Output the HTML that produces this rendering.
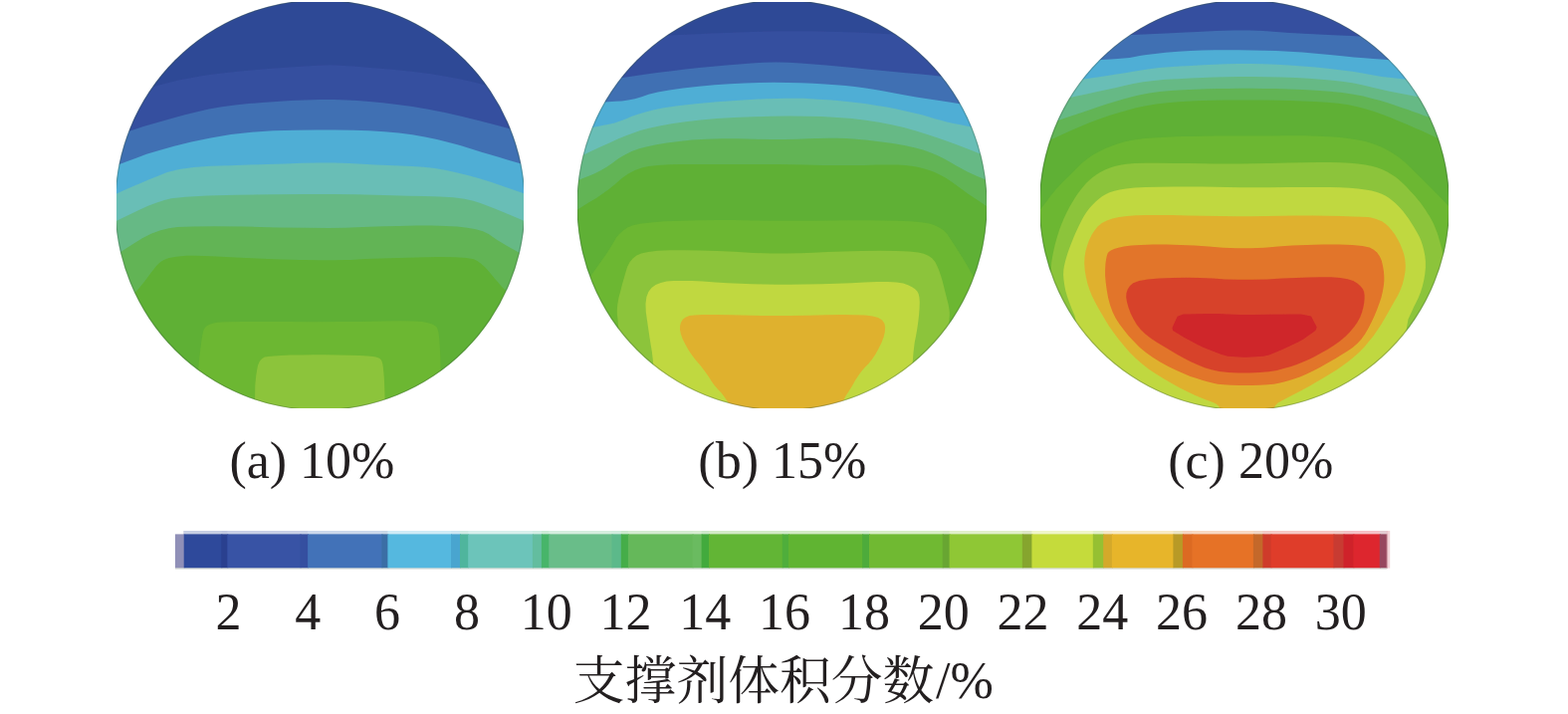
<!DOCTYPE html>
<html lang="zh">
<head>
<meta charset="utf-8">
<title>Proppant volume fraction contours</title>
<style>
html,body{margin:0;padding:0;background:#fff;}
body{width:1575px;height:717px;overflow:hidden;font-family:"Liberation Serif",serif;}
svg{display:block;}
</style>
</head>
<body>
<svg width="1575" height="717" viewBox="0 0 1575 717">
<defs>
<filter id="soft" x="-2%" y="-2%" width="104%" height="104%"><feGaussianBlur stdDeviation="0.6"/></filter>
</defs>
<rect width="1575" height="717" fill="#ffffff"/>
<clipPath id="clip1"><ellipse cx="321.5" cy="206.0" rx="206.0" ry="206.0"/></clipPath>
<clipPath id="rclip1"><rect x="117.0" y="2.0" width="409.0" height="408.0"/></clipPath>
<g clip-path="url(#rclip1)">
<g clip-path="url(#clip1)">
<g filter="url(#soft)">
<rect x="105.5" y="-10" width="432.0" height="440" fill="#2F4896"/>
<polygon points="105.0,102.0 108.6,100.9 115.9,98.6 126.8,95.2 141.2,90.8 154.9,86.8 167.6,83.4 179.5,80.6 190.5,78.4 202.2,76.3 214.6,74.5 227.6,72.9 241.4,71.6 255.3,70.3 269.4,69.1 283.8,68.0 298.2,67.1 310.4,66.3 320.1,65.8 327.5,65.5 332.5,65.3 341.6,65.7 354.9,66.6 372.2,67.9 393.8,69.8 413.5,71.8 431.6,74.1 447.9,76.7 462.6,79.5 477.0,82.7 491.2,86.4 505.3,90.6 519.2,95.1 529.6,98.6 536.5,100.9 540.0,102.0 540.0,430.0 105.0,430.0" fill="#35509F"/>
<polygon points="105.0,141.0 106.6,140.4 109.9,139.1 114.8,137.2 121.2,134.8 128.3,132.2 135.9,129.7 144.1,127.1 152.9,124.4 162.6,121.7 173.2,118.7 184.8,115.6 197.2,112.4 210.0,109.6 223.0,107.3 236.2,105.4 249.8,104.1 263.6,102.9 277.9,101.9 292.5,101.1 307.5,100.4 321.6,100.1 334.8,100.1 347.2,100.4 358.6,100.9 371.0,101.9 384.4,103.2 398.8,105.0 414.1,107.0 430.1,109.8 446.8,113.1 464.2,117.0 482.4,121.5 497.9,125.5 510.8,129.0 521.0,131.9 528.6,134.4 534.3,136.2 538.1,137.4 540.0,138.0 540.0,430.0 105.0,430.0" fill="#4170B3"/>
<polygon points="105.0,171.0 106.0,170.6 108.0,169.8 111.0,168.6 115.0,167.0 120.6,164.8 127.9,162.1 136.8,158.8 147.2,154.8 160.0,150.9 175.0,146.8 192.2,142.6 211.8,138.4 231.9,135.1 252.8,132.7 274.4,131.2 296.6,130.8 317.4,130.5 336.7,130.5 354.5,130.8 370.8,131.2 386.2,132.2 400.6,133.5 414.1,135.3 426.7,137.6 438.9,140.1 450.7,142.9 462.2,146.1 473.3,149.6 483.6,152.8 493.1,155.6 501.7,158.1 509.6,160.4 516.6,162.4 522.8,164.3 528.3,166.1 533.0,167.6 536.5,168.8 538.8,169.6 540.0,170.0 540.0,430.0 105.0,430.0" fill="#50AED5"/>
<polygon points="105.0,200.0 105.8,199.6 107.4,198.9 109.9,197.8 113.1,196.2 117.2,194.4 122.0,192.3 127.6,189.8 133.9,186.9 141.2,183.9 149.2,180.5 158.1,177.0 167.9,173.1 180.1,170.1 194.7,168.0 211.8,166.7 231.3,166.2 250.3,165.6 268.7,165.0 286.6,164.4 304.0,163.8 320.4,163.5 335.8,163.6 350.2,164.0 363.8,164.8 376.8,165.5 389.5,166.1 401.8,166.5 413.7,166.9 425.4,167.7 436.9,169.1 448.2,171.0 459.3,173.4 470.7,176.3 482.4,179.6 494.4,183.3 506.6,187.6 516.8,191.1 524.8,193.8 530.6,195.8 534.4,197.1 537.2,198.0 539.1,198.7 540.0,199.0 540.0,430.0 105.0,430.0" fill="#69BEB6"/>
<polygon points="105.0,228.0 105.8,227.6 107.2,226.8 109.5,225.6 112.5,224.1 117.1,221.7 123.3,218.7 131.1,214.9 140.5,210.4 149.3,206.6 157.5,203.4 165.1,201.0 172.0,199.2 186.5,197.8 208.4,196.6 237.8,195.8 274.7,195.3 306.9,195.0 334.6,195.0 357.6,195.3 376.1,195.8 393.7,196.3 410.6,196.7 426.7,197.1 442.0,197.5 455.3,198.3 466.4,199.8 475.5,201.7 482.5,204.1 489.8,206.8 497.5,209.8 505.5,213.0 513.9,216.5 521.0,219.5 526.9,222.0 531.5,224.1 534.9,225.6 537.5,226.8 539.1,227.6 540.0,228.0 540.0,430.0 105.0,430.0" fill="#66B985"/>
<polygon points="105.0,264.0 106.0,263.3 108.0,261.9 111.0,259.9 115.0,257.1 120.2,253.7 126.6,249.6 134.1,244.8 142.9,239.2 151.7,234.8 160.6,231.5 169.5,229.2 178.5,228.1 193.9,227.4 215.6,227.2 243.8,227.5 278.2,228.4 307.0,228.8 330.0,229.0 347.2,228.8 358.6,228.3 371.5,227.8 385.7,227.3 401.4,226.9 418.4,226.6 433.7,226.6 447.3,226.9 459.2,227.6 469.3,228.7 478.0,230.3 485.1,232.3 490.8,234.9 495.0,237.9 499.4,240.9 504.0,243.8 508.9,246.7 513.9,249.4 518.9,252.3 523.7,255.2 528.4,258.2 533.1,261.3 536.5,263.7 538.8,265.2 540.0,266.0 540.0,430.0 105.0,430.0" fill="#62B455"/>
<polygon points="105.0,328.0 107.2,325.6 111.6,320.8 118.1,313.6 126.9,303.9 134.1,295.8 139.8,289.3 143.9,284.2 146.6,280.8 149.2,277.3 151.8,273.8 154.4,270.4 157.1,267.1 159.8,264.3 162.8,262.0 165.9,260.4 169.1,259.3 172.9,258.4 177.3,257.7 182.2,257.2 187.8,256.8 195.4,256.8 205.1,257.0 217.0,257.5 231.0,258.2 246.4,259.0 263.1,259.7 281.2,260.4 300.8,261.0 319.1,261.3 336.3,261.3 352.4,260.9 367.3,260.1 383.6,259.5 401.1,258.9 420.0,258.5 440.3,258.1 456.3,258.3 468.2,259.0 475.8,260.2 479.3,262.0 483.1,264.8 487.3,268.6 491.8,273.5 496.7,279.4 500.7,284.1 503.8,287.7 506.1,290.1 507.5,291.2 510.5,294.3 515.0,299.3 521.0,306.1 528.6,314.9 534.3,321.4 538.1,325.8 540.0,328.0 540.0,430.0 105.0,430.0" fill="#5FB034"/>
<polygon points="198.0,411.2 198.0,398.8 198.3,386.6 198.9,374.7 199.9,363.1 201.1,351.9 202.3,342.9 203.4,336.1 204.5,331.6 205.5,329.4 207.4,327.5 210.1,325.9 213.8,324.7 218.2,323.8 228.2,323.2 243.6,322.9 264.4,322.9 290.6,323.1 315.8,323.2 339.9,323.1 362.9,322.9 384.8,322.4 402.3,322.3 415.5,322.6 424.4,323.1 428.9,324.1 432.7,325.1 435.6,326.3 437.8,327.7 439.2,329.2 440.4,333.4 441.3,340.2 441.9,349.7 442.4,361.8 442.7,374.0 442.9,386.3 443.0,398.8 443.0,411.2 427.7,420.6 397.1,426.9 351.1,430.0 289.9,430.0 243.9,426.9 213.3,420.6" fill="#6CB731"/>
<polygon points="256.0,418.8 256.0,411.2 256.0,404.4 256.1,398.1 256.2,392.5 256.3,387.5 256.7,382.5 257.2,377.4 258.0,372.3 259.0,367.1 260.7,363.1 263.0,360.2 265.9,358.5 269.6,357.9 275.1,357.4 282.5,357.0 291.9,356.6 303.1,356.4 314.7,356.3 326.6,356.3 338.8,356.4 351.4,356.8 361.5,357.1 369.3,357.5 374.6,358.0 377.5,358.6 379.9,359.3 381.7,360.3 382.9,361.5 383.6,362.9 384.3,365.3 384.8,368.8 385.3,373.4 385.8,378.9 386.1,385.8 386.4,393.9 386.6,403.3 386.8,414.0 378.7,422.0 362.4,427.3 337.9,430.0 305.1,430.0 280.6,428.1 264.2,424.4" fill="#8CC43A"/>
</g></g>
<ellipse cx="321.5" cy="206.0" rx="205.6" ry="205.6" fill="none" stroke="#33503c" stroke-opacity="0.32" stroke-width="1.1"/>
</g>
<clipPath id="clip2"><ellipse cx="785.5" cy="206.0" rx="206.0" ry="206.0"/></clipPath>
<clipPath id="rclip2"><rect x="580.0" y="2.0" width="411.0" height="408.0"/></clipPath>
<g clip-path="url(#rclip2)">
<g clip-path="url(#clip2)">
<g filter="url(#soft)">
<rect x="569.5" y="-10" width="432.0" height="440" fill="#2F4896"/>
<polygon points="570.0,40.0 576.8,39.7 590.4,39.1 610.8,38.2 638.0,37.1 662.1,36.0 683.0,35.1 700.7,34.2 715.4,33.5 729.3,32.9 742.6,32.4 755.2,32.0 767.1,31.7 779.2,31.5 791.5,31.4 804.0,31.4 816.8,31.5 829.8,31.7 843.1,32.1 856.7,32.5 870.6,33.1 887.8,33.9 908.4,34.9 932.2,36.2 959.3,37.7 979.7,38.9 993.2,39.6 1000.0,40.0 1000.0,430.0 570.0,430.0" fill="#35509F"/>
<polygon points="570.0,86.0 573.8,85.5 581.2,84.3 592.5,82.7 607.5,80.5 622.0,78.4 635.9,76.4 649.3,74.6 662.2,72.8 675.3,71.2 688.7,69.6 702.4,68.1 716.4,66.7 729.8,65.5 742.8,64.4 755.2,63.5 767.1,62.8 779.2,62.6 791.5,62.8 804.0,63.4 816.8,64.4 829.8,65.6 843.1,66.8 856.7,68.1 870.6,69.5 884.1,70.8 897.2,72.0 909.8,73.2 922.0,74.2 934.9,75.5 948.4,77.1 962.7,78.9 977.6,80.9 988.8,82.5 996.3,83.5 1000.0,84.0 1000.0,430.0 570.0,430.0" fill="#4170B3"/>
<polygon points="570.0,105.0 572.4,104.8 577.3,104.5 584.6,104.0 594.4,103.3 603.2,102.7 611.2,102.2 618.4,101.8 624.6,101.4 631.1,100.5 637.7,99.2 644.5,97.2 651.5,94.8 660.8,92.5 672.3,90.4 686.1,88.5 702.1,86.7 717.8,85.3 733.2,84.2 748.2,83.4 763.0,83.0 777.1,82.8 790.9,82.9 804.0,83.2 816.8,83.8 828.5,84.5 839.4,85.2 849.4,86.0 858.4,87.0 867.8,88.2 877.6,89.7 887.7,91.5 898.2,93.5 909.0,95.6 920.2,97.5 931.7,99.3 943.5,101.1 954.8,102.8 965.6,104.4 975.8,106.1 985.5,107.6 992.7,108.8 997.6,109.6 1000.0,110.0 1000.0,430.0 570.0,430.0" fill="#50AED5"/>
<polygon points="570.0,133.0 571.7,132.7 575.2,131.9 580.5,130.9 587.4,129.5 594.1,128.2 600.3,127.0 606.3,125.8 611.8,124.8 617.4,123.4 623.0,121.6 628.6,119.5 634.1,117.1 640.8,114.7 648.4,112.5 657.1,110.3 666.9,108.2 680.7,106.2 698.5,104.2 720.3,102.3 746.2,100.4 769.3,99.2 789.6,98.7 807.2,98.8 821.9,99.7 835.6,100.6 848.3,101.7 859.8,103.0 870.3,104.3 880.6,105.9 890.7,107.6 900.6,109.5 910.4,111.7 919.1,113.7 926.7,115.6 933.4,117.4 938.9,119.2 944.9,120.8 951.1,122.4 957.8,123.9 964.7,125.3 971.5,126.7 978.1,128.1 984.5,129.5 990.7,130.9 995.3,131.9 998.5,132.7 1000.0,133.0 1000.0,430.0 570.0,430.0" fill="#69BEB6"/>
<polygon points="570.0,163.0 571.2,162.4 573.7,161.3 577.3,159.6 582.2,157.3 588.1,154.6 595.1,151.3 603.1,147.6 612.2,143.4 620.7,139.6 628.8,136.3 636.3,133.5 643.2,131.0 652.0,128.7 662.4,126.4 674.6,124.2 688.5,122.2 703.7,120.4 720.1,119.0 737.8,118.0 756.6,117.2 774.9,116.8 792.4,116.6 809.3,116.7 825.4,117.1 840.9,117.9 855.6,119.1 869.6,120.8 882.8,122.8 895.6,125.3 907.8,128.1 919.4,131.2 930.6,134.7 941.2,138.2 951.3,141.7 960.9,145.2 970.0,148.7 977.8,151.7 984.4,154.4 989.8,156.6 993.9,158.3 996.9,159.7 999.0,160.6 1000.0,161.0 1000.0,430.0 570.0,430.0" fill="#66B985"/>
<polygon points="570.0,186.0 570.8,185.6 572.3,184.9 574.7,183.9 577.8,182.4 581.6,180.8 586.2,178.8 591.4,176.7 597.4,174.2 603.3,171.3 609.3,167.8 615.2,163.8 621.1,159.3 627.6,155.4 634.5,152.1 642.0,149.3 650.0,147.2 659.3,145.3 669.9,143.6 681.9,142.0 695.1,140.6 709.4,139.7 724.8,139.2 741.2,139.2 758.8,139.8 774.5,140.0 788.6,140.0 800.9,139.8 811.5,139.2 821.7,138.9 831.6,138.8 841.0,138.8 850.1,139.1 860.2,139.7 871.4,140.8 883.5,142.2 896.8,144.1 908.4,146.1 918.5,148.2 927.1,150.5 934.0,153.0 940.8,155.7 947.5,158.9 953.9,162.4 960.2,166.2 966.2,169.6 971.8,172.6 977.1,175.1 982.2,177.2 986.6,179.0 990.4,180.7 993.6,182.1 996.1,183.2 998.1,184.1 999.4,184.7 1000.0,185.0 1000.0,430.0 570.0,430.0" fill="#62B455"/>
<polygon points="570.0,217.0 570.7,216.5 572.1,215.6 574.2,214.2 577.0,212.4 580.8,209.9 585.7,206.9 591.6,203.3 598.6,199.2 605.4,194.6 612.0,189.8 618.4,184.5 624.7,179.0 631.1,174.4 637.8,170.9 644.6,168.5 651.5,167.1 660.8,166.1 672.3,165.3 686.1,165.0 702.1,165.0 717.8,165.0 733.2,165.0 748.2,165.0 763.0,165.0 778.0,165.1 793.5,165.3 809.3,165.5 825.4,165.9 840.7,166.1 855.1,166.1 868.5,165.9 881.1,165.5 892.1,165.4 901.5,165.6 909.3,166.1 915.6,166.8 921.7,167.8 927.6,169.2 933.4,170.9 938.9,173.1 944.5,175.7 950.1,178.8 955.7,182.5 961.2,186.6 966.7,190.6 972.1,194.5 977.4,198.1 982.7,201.6 987.2,204.6 991.0,207.3 994.1,209.5 996.4,211.3 998.2,212.6 999.4,213.6 1000.0,214.0 1000.0,430.0 570.0,430.0" fill="#5FB034"/>
<polygon points="570.0,310.0 571.7,307.6 575.2,302.6 580.5,295.3 587.4,285.5 593.5,276.9 598.8,269.6 603.1,263.5 606.6,258.6 609.9,253.7 613.0,248.8 616.0,243.9 618.8,239.1 622.1,234.9 626.0,231.4 630.3,228.6 635.2,226.5 643.0,224.8 653.8,223.4 667.6,222.3 684.3,221.7 701.6,221.2 719.4,221.0 737.8,221.1 756.6,221.5 775.7,221.7 795.0,221.7 814.5,221.7 834.2,221.4 852.8,221.3 870.3,221.3 886.7,221.4 902.0,221.7 914.9,222.3 925.4,223.2 933.4,224.6 938.9,226.3 943.8,228.7 948.0,231.6 951.5,235.2 954.3,239.4 957.3,243.9 960.4,248.8 963.7,254.1 967.2,259.6 970.0,264.2 972.1,267.7 973.5,270.1 974.1,271.5 976.2,275.1 979.7,281.0 984.5,289.1 990.7,299.5 995.3,307.2 998.5,312.4 1000.0,315.0 1000.0,430.0 570.0,430.0" fill="#6CB731"/>
<polygon points="623.1,391.2 622.5,365.3 621.9,344.9 621.2,329.8 620.5,320.2 619.9,316.1 619.8,311.2 620.3,305.6 621.4,299.3 623.2,292.4 624.9,285.7 626.7,279.5 628.4,273.5 630.1,268.0 632.5,263.3 635.7,259.4 639.5,256.5 644.1,254.4 651.1,252.9 660.7,251.8 672.8,251.3 687.5,251.3 703.2,251.6 719.9,252.1 737.8,252.8 756.6,253.9 774.0,254.5 789.8,254.6 804.0,254.3 816.8,253.7 831.2,253.0 847.3,252.5 865.1,252.1 884.6,251.8 900.6,251.9 913.2,252.4 922.3,253.4 927.8,254.7 932.5,256.8 936.4,259.6 939.3,263.1 941.4,267.3 943.3,271.8 945.0,276.7 946.6,282.0 948.0,287.5 949.3,292.8 950.5,297.6 951.7,302.2 952.7,306.3 953.4,310.2 953.8,313.7 953.8,316.9 953.5,319.7 953.1,328.5 952.5,343.2 951.9,363.8 951.1,390.2 930.2,410.1 889.1,423.4 827.8,430.0 746.2,430.0 685.0,423.5 643.9,410.6" fill="#8CC43A"/>
<polygon points="658.6,404.8 657.8,388.0 656.8,373.8 655.9,362.3 654.9,353.4 653.8,347.1 652.7,340.0 651.5,332.0 650.2,323.1 648.8,313.3 648.5,305.1 649.4,298.2 651.4,292.9 654.5,289.1 658.6,286.1 663.7,283.9 669.7,282.6 676.6,282.1 685.0,282.0 694.8,282.1 705.9,282.6 718.5,283.5 730.9,284.2 743.1,284.8 755.2,285.2 767.1,285.6 780.1,285.8 794.1,285.8 809.3,285.6 825.4,285.2 840.7,284.8 855.1,284.3 868.5,283.6 881.1,282.9 891.7,282.9 900.4,283.4 907.2,284.5 912.1,286.3 916.1,288.2 919.1,290.3 921.3,292.6 922.6,295.0 923.4,298.6 923.8,303.3 923.6,309.1 923.1,316.1 922.3,323.0 921.3,330.0 920.1,337.0 918.7,343.9 917.5,353.9 916.5,366.8 915.6,382.8 915.0,401.6 898.6,415.8 866.5,425.3 818.8,430.0 755.2,430.0 707.4,425.8 675.2,417.4" fill="#C0D840"/>
<polygon points="739.0,418.4 735.0,410.6 731.3,404.1 727.9,398.9 724.8,394.8 722.0,392.1 719.4,389.1 716.9,386.0 714.6,382.7 712.5,379.2 709.9,375.4 706.8,371.2 703.1,366.6 699.0,361.8 695.1,356.7 691.6,351.4 688.5,346.0 685.7,340.5 683.9,335.4 683.0,330.9 683.1,326.9 684.1,323.4 686.1,320.6 688.9,318.5 692.5,317.1 697.1,316.4 705.6,316.1 718.0,316.0 734.3,316.2 754.6,316.8 774.4,317.1 793.6,317.1 812.4,316.8 830.6,316.2 846.1,316.0 859.0,316.2 869.0,316.6 876.4,317.5 882.1,319.1 886.1,321.5 888.4,324.8 889.1,328.8 888.8,333.4 887.6,338.6 885.4,344.3 882.3,350.6 879.1,356.2 875.8,361.1 872.4,365.2 868.9,368.8 865.6,372.6 862.5,376.8 859.5,381.3 856.7,386.2 854.3,390.2 852.4,393.3 850.9,395.6 849.9,396.9 848.3,399.9 846.1,404.5 843.3,410.6 840.0,418.4 831.9,424.2 819.0,428.1 801.2,430.0 778.8,430.0 760.9,428.1 747.6,424.2" fill="#DFB12E"/>
</g></g>
<ellipse cx="785.5" cy="206.0" rx="205.6" ry="205.6" fill="none" stroke="#33503c" stroke-opacity="0.32" stroke-width="1.1"/>
</g>
<clipPath id="clip3"><ellipse cx="1250.0" cy="206.0" rx="206.0" ry="206.0"/></clipPath>
<clipPath id="rclip3"><rect x="1045.0" y="2.0" width="410.0" height="408.0"/></clipPath>
<g clip-path="url(#rclip3)">
<g clip-path="url(#clip3)">
<g filter="url(#soft)">
<rect x="1034.0" y="-10" width="432.0" height="440" fill="#35509F"/>
<polygon points="1035.0,40.0 1041.3,39.7 1053.8,39.0 1072.7,38.1 1097.8,36.8 1119.0,35.8 1136.4,35.0 1150.0,34.4 1159.8,34.0 1171.8,33.5 1186.1,32.8 1202.8,32.0 1221.7,31.0 1239.0,30.5 1254.8,30.5 1269.0,31.0 1281.8,32.0 1295.1,32.9 1309.1,33.8 1323.8,34.5 1339.1,35.2 1357.0,36.1 1377.6,37.2 1400.7,38.4 1426.4,39.9 1445.7,40.9 1458.6,41.6 1465.0,42.0 1465.0,430.0 1035.0,430.0" fill="#4170B3"/>
<polygon points="1035.0,64.0 1039.4,63.8 1048.3,63.2 1061.7,62.5 1079.4,61.5 1094.4,60.7 1106.6,60.0 1116.0,59.5 1122.7,59.1 1128.8,58.6 1134.6,57.9 1139.9,57.0 1144.8,56.0 1151.6,54.9 1160.3,53.9 1170.9,52.8 1183.5,51.8 1195.9,51.0 1208.1,50.5 1220.2,50.2 1232.1,50.2 1244.2,50.3 1256.5,50.5 1269.0,50.7 1281.8,51.1 1294.8,51.7 1308.1,52.6 1321.7,53.7 1335.6,55.1 1348.3,56.3 1359.8,57.4 1370.1,58.2 1379.2,59.0 1390.5,59.8 1404.1,61.0 1419.9,62.2 1437.9,63.8 1451.5,64.9 1460.5,65.6 1465.0,66.0 1465.0,430.0 1035.0,430.0" fill="#50AED5"/>
<polygon points="1035.0,88.0 1038.3,87.5 1044.9,86.4 1054.9,84.8 1068.1,82.7 1080.5,80.7 1092.0,79.0 1102.6,77.4 1112.4,76.0 1121.6,74.6 1130.3,73.2 1138.5,71.8 1146.2,70.4 1154.7,69.2 1164.1,68.1 1174.4,67.2 1185.6,66.5 1196.9,65.9 1208.5,65.3 1220.2,64.8 1232.1,64.3 1244.2,64.1 1256.5,64.1 1269.0,64.3 1281.8,64.8 1294.8,65.5 1308.1,66.4 1321.7,67.6 1335.6,69.0 1347.8,70.4 1358.2,71.8 1367.0,73.2 1373.9,74.6 1380.9,75.8 1387.9,76.9 1394.9,77.8 1401.8,78.5 1410.4,79.4 1420.4,80.5 1432.1,81.9 1445.2,83.6 1455.1,84.8 1461.7,85.6 1465.0,86.0 1465.0,430.0 1035.0,430.0" fill="#69BEB6"/>
<polygon points="1035.0,107.0 1037.6,106.4 1042.8,105.2 1050.7,103.5 1061.1,101.1 1071.4,98.8 1081.5,96.6 1091.5,94.5 1101.2,92.3 1110.8,90.3 1120.2,88.2 1129.5,86.1 1138.5,84.0 1148.4,82.3 1159.2,80.9 1170.9,79.8 1183.5,79.2 1195.9,78.5 1208.1,78.0 1220.2,77.6 1232.1,77.2 1244.8,77.0 1258.1,77.0 1272.2,77.2 1286.9,77.6 1301.0,78.1 1314.3,78.8 1326.9,79.7 1338.7,80.7 1349.7,82.0 1359.8,83.6 1369.1,85.4 1377.4,87.5 1386.0,89.5 1394.7,91.4 1403.6,93.2 1412.7,95.0 1421.9,96.8 1431.3,98.5 1440.8,100.4 1450.5,102.2 1457.7,103.6 1462.6,104.5 1465.0,105.0 1465.0,430.0 1035.0,430.0" fill="#66B985"/>
<polygon points="1035.0,131.0 1036.9,130.3 1040.8,128.9 1046.5,126.8 1054.2,124.1 1061.5,121.5 1068.5,119.0 1075.1,116.8 1081.4,114.7 1088.2,112.4 1095.5,109.9 1103.3,107.3 1111.7,104.6 1120.0,102.0 1128.4,99.5 1136.8,97.2 1145.1,95.2 1154.6,93.4 1165.0,92.0 1176.5,91.0 1189.1,90.2 1201.1,89.7 1212.7,89.3 1223.7,89.0 1234.2,88.9 1245.3,88.8 1256.9,88.8 1269.0,88.9 1281.8,89.0 1294.8,89.4 1308.1,90.0 1321.7,90.8 1335.6,91.8 1348.2,93.1 1359.3,94.7 1369.1,96.5 1377.4,98.7 1385.5,100.8 1393.1,103.1 1400.5,105.4 1407.4,107.9 1413.9,110.1 1419.8,112.2 1425.2,114.1 1430.1,115.9 1435.5,117.8 1441.4,120.0 1447.8,122.4 1454.7,125.1 1459.8,127.0 1463.3,128.3 1465.0,129.0 1465.0,430.0 1035.0,430.0" fill="#62B455"/>
<polygon points="1035.0,150.0 1036.4,149.3 1039.2,148.0 1043.4,146.0 1048.9,143.4 1055.0,140.5 1061.7,137.5 1068.8,134.2 1076.5,130.7 1084.2,127.4 1091.8,124.3 1099.5,121.3 1107.2,118.5 1115.2,115.8 1123.6,113.2 1132.3,110.7 1141.3,108.2 1151.1,106.2 1161.5,104.5 1172.7,103.2 1184.5,102.3 1196.4,101.6 1208.3,101.0 1220.2,100.7 1232.1,100.6 1244.2,100.5 1256.5,100.5 1269.0,100.6 1281.8,100.7 1294.4,101.0 1307.0,101.4 1319.6,102.0 1332.2,102.7 1343.7,103.8 1354.1,105.2 1363.5,107.2 1371.9,109.5 1380.2,112.1 1388.6,115.0 1397.0,118.2 1405.3,121.7 1413.4,125.1 1421.0,128.4 1428.4,131.6 1435.3,134.7 1441.8,137.7 1447.7,140.4 1453.0,143.0 1457.8,145.4 1461.4,147.2 1463.8,148.4 1465.0,149.0 1465.0,430.0 1035.0,430.0" fill="#5FB034"/>
<polygon points="1033.0,226.0 1033.9,224.9 1035.6,222.6 1038.2,219.2 1041.8,214.8 1045.2,210.3 1048.6,205.8 1051.9,201.4 1055.1,197.0 1058.4,192.9 1061.7,189.0 1065.1,185.4 1068.4,182.0 1072.0,178.5 1075.8,174.7 1079.8,170.7 1083.9,166.5 1088.1,162.7 1092.3,159.4 1096.5,156.4 1100.7,153.9 1105.4,151.5 1110.6,149.1 1116.4,146.8 1122.6,144.4 1129.1,142.5 1135.8,141.0 1142.7,139.9 1149.8,139.1 1157.8,138.5 1166.6,137.9 1176.2,137.5 1186.6,137.1 1197.4,136.9 1208.6,136.7 1220.2,136.6 1232.1,136.6 1245.4,136.6 1260.1,136.5 1276.2,136.4 1293.8,136.2 1309.5,136.3 1323.5,136.7 1335.7,137.2 1346.2,138.1 1355.6,139.2 1364.0,140.5 1371.3,142.1 1377.6,144.0 1383.5,146.1 1389.2,148.5 1394.5,151.2 1399.5,154.2 1404.3,157.4 1408.9,161.0 1413.3,164.9 1417.5,169.0 1421.7,173.2 1425.9,177.4 1430.1,181.6 1434.3,185.7 1438.2,189.6 1441.7,193.2 1445.0,196.4 1447.9,199.4 1451.0,202.7 1454.3,206.3 1457.8,210.2 1461.5,214.6 1464.2,217.8 1466.1,219.9 1467.0,221.0 1467.0,430.0 1033.0,430.0" fill="#6CB731"/>
<polygon points="1055.0,372.2 1055.0,333.6 1055.1,303.5 1055.4,281.7 1055.8,268.3 1056.2,263.2 1057.1,257.7 1058.3,251.8 1059.8,245.3 1061.7,238.4 1063.8,231.8 1066.1,225.4 1068.6,219.4 1071.4,213.6 1074.1,208.3 1076.9,203.4 1079.6,198.9 1082.4,194.8 1085.2,191.0 1088.1,187.4 1091.0,184.1 1094.1,181.1 1097.4,178.2 1101.1,175.5 1105.1,173.1 1109.5,170.8 1114.3,168.8 1119.5,167.1 1125.2,165.8 1131.3,164.8 1139.8,164.1 1150.6,163.7 1163.7,163.7 1179.1,163.9 1193.7,164.1 1207.4,164.3 1220.2,164.4 1232.1,164.4 1245.4,164.4 1260.1,164.2 1276.2,163.9 1293.8,163.4 1309.5,163.2 1323.5,163.1 1335.7,163.1 1346.2,163.3 1355.6,163.8 1364.0,164.5 1371.3,165.5 1377.6,166.7 1383.3,168.3 1388.6,170.2 1393.3,172.4 1397.4,174.9 1401.4,177.6 1405.2,180.6 1408.7,183.7 1412.1,187.0 1415.3,190.4 1418.4,193.7 1421.4,197.1 1424.2,200.4 1426.9,203.8 1429.4,207.2 1431.7,210.5 1433.8,213.9 1435.8,217.1 1437.5,220.1 1439.1,223.1 1440.4,225.8 1441.8,229.2 1443.3,233.1 1444.8,237.5 1446.2,242.5 1447.5,247.2 1448.6,251.6 1449.4,255.6 1450.1,259.4 1450.5,272.5 1450.8,295.0 1451.0,326.9 1451.0,368.1 1426.2,399.1 1376.8,419.7 1302.5,430.0 1203.5,430.0 1129.2,420.4 1079.8,401.1" fill="#8CC43A"/>
<polygon points="1087.8,391.4 1086.2,365.6 1084.4,344.6 1082.1,328.4 1079.5,316.9 1076.5,310.1 1074.0,303.6 1071.9,297.4 1070.2,291.4 1069.1,285.6 1068.4,280.3 1068.1,275.4 1068.3,270.9 1069.0,266.8 1070.0,262.6 1071.1,258.4 1072.5,254.1 1074.1,249.6 1075.6,245.5 1077.1,241.7 1078.6,238.1 1079.9,234.9 1081.5,231.4 1083.2,227.8 1085.1,223.9 1087.1,219.9 1089.4,216.0 1091.9,212.3 1094.6,208.8 1097.6,205.4 1100.6,202.4 1103.8,199.7 1107.0,197.2 1110.4,195.2 1114.5,193.3 1119.3,191.8 1124.8,190.5 1131.1,189.4 1139.7,188.6 1150.5,188.1 1163.7,187.7 1179.1,187.6 1193.7,187.6 1207.4,187.6 1220.2,187.8 1232.1,188.1 1245.4,188.2 1260.1,188.3 1276.2,188.2 1293.8,188.0 1309.5,187.9 1323.5,187.9 1335.7,188.1 1346.2,188.3 1355.6,188.8 1364.0,189.5 1371.3,190.4 1377.6,191.5 1383.1,192.9 1387.9,194.7 1392.0,196.7 1395.4,199.0 1398.6,201.5 1401.6,204.0 1404.4,206.7 1407.0,209.6 1409.6,212.6 1412.2,215.9 1414.8,219.5 1417.2,223.3 1419.6,227.0 1421.8,230.7 1423.8,234.2 1425.7,237.8 1427.4,241.8 1428.9,246.2 1430.2,251.2 1431.3,256.8 1431.9,262.5 1431.9,268.6 1431.3,274.9 1430.2,281.5 1428.7,287.7 1426.9,293.4 1424.8,298.8 1422.4,303.7 1420.1,308.3 1418.1,312.7 1416.2,316.7 1414.5,320.4 1412.8,329.7 1411.1,344.6 1409.4,365.0 1407.6,391.0 1386.6,410.5 1346.4,423.5 1286.9,430.0 1208.1,430.0 1148.7,423.6 1108.6,410.7" fill="#C0D840"/>
<polygon points="1225.1,411.7 1225.1,409.5 1223.9,407.4 1221.4,405.5 1217.7,403.7 1212.8,402.1 1207.1,399.8 1200.5,396.9 1193.1,393.4 1185.0,389.4 1177.0,385.0 1169.2,380.5 1161.6,375.8 1154.3,370.9 1147.3,365.6 1140.7,359.8 1134.6,353.7 1128.8,347.1 1123.5,340.6 1118.6,334.0 1114.0,327.5 1110.0,320.9 1106.2,314.6 1102.7,308.4 1099.5,302.5 1096.7,296.8 1094.3,290.8 1092.3,284.5 1090.8,278.0 1089.7,271.2 1089.2,264.6 1089.5,258.3 1090.4,252.2 1092.1,246.3 1094.1,240.9 1096.5,236.0 1099.4,231.5 1102.6,227.5 1106.7,224.1 1111.7,221.4 1117.4,219.4 1124.1,217.9 1132.1,216.9 1141.4,216.2 1152.2,215.9 1164.3,216.0 1177.6,216.1 1192.1,216.4 1207.8,216.7 1224.7,217.1 1241.1,217.3 1257.1,217.3 1272.7,217.1 1287.9,216.7 1302.9,216.5 1317.9,216.5 1332.7,216.7 1347.4,217.1 1359.1,217.5 1367.8,217.8 1373.4,218.1 1376.1,218.3 1378.8,218.9 1381.8,219.7 1384.9,220.9 1388.1,222.3 1391.3,224.5 1394.5,227.3 1397.7,230.9 1400.8,235.1 1403.6,239.7 1406.1,244.5 1408.2,249.6 1410.2,254.9 1411.3,260.5 1411.8,266.4 1411.5,272.4 1410.4,278.8 1408.9,284.9 1406.7,290.9 1404.0,296.8 1400.7,302.5 1397.4,308.2 1394.2,314.0 1390.9,319.7 1387.6,325.4 1383.9,331.1 1379.8,336.9 1375.3,342.6 1370.4,348.4 1365.3,353.7 1359.9,358.6 1354.4,363.1 1348.6,367.2 1342.5,371.4 1335.9,375.6 1329.0,379.8 1321.6,384.1 1314.9,387.9 1308.8,391.3 1303.2,394.2 1298.3,396.8 1294.0,399.0 1290.2,401.0 1286.9,402.8 1284.1,404.2 1282.1,405.9 1280.7,407.7 1280.0,409.7 1280.0,411.8 1276.6,413.4 1269.7,414.5 1259.4,415.0 1245.7,415.0 1235.4,414.4 1228.5,413.4" fill="#DFB12E"/>
<polygon points="1256.2,387.0 1245.8,387.0 1236.8,386.8 1229.2,386.3 1223.2,385.7 1218.8,384.8 1213.7,383.6 1208.2,382.0 1202.2,380.1 1195.6,377.9 1188.7,375.1 1181.3,371.8 1173.5,367.9 1165.3,363.6 1157.7,358.8 1150.7,353.8 1144.4,348.4 1138.6,342.6 1133.4,336.9 1128.7,331.1 1124.5,325.4 1120.8,319.7 1117.7,313.4 1115.1,306.5 1113.1,299.1 1111.7,291.0 1110.7,283.6 1110.1,276.9 1110.1,270.8 1110.4,265.2 1111.0,260.7 1111.7,257.2 1112.6,254.6 1113.7,253.0 1115.8,251.5 1119.1,250.1 1123.4,248.7 1128.9,247.5 1136.4,246.5 1146.0,245.9 1157.7,245.6 1171.6,245.6 1185.5,245.9 1199.7,246.5 1213.9,247.4 1228.4,248.7 1242.6,249.3 1256.5,249.3 1270.2,248.7 1283.8,247.4 1298.0,246.5 1312.9,245.9 1328.6,245.6 1344.9,245.6 1358.2,246.1 1368.5,247.1 1375.7,248.6 1379.8,250.7 1383.1,253.5 1385.8,257.2 1387.8,261.7 1389.0,267.0 1389.9,272.2 1390.3,277.4 1390.3,282.4 1389.8,287.3 1388.9,292.6 1387.5,298.4 1385.5,304.5 1383.1,311.1 1380.4,317.4 1377.6,323.6 1374.5,329.5 1371.2,335.3 1367.5,340.4 1363.3,345.0 1358.7,349.0 1353.6,352.4 1347.9,356.0 1341.5,359.9 1334.4,364.1 1326.6,368.4 1319.4,372.2 1312.6,375.5 1306.4,378.2 1300.6,380.3 1295.1,382.1 1289.7,383.6 1284.5,384.8 1279.5,385.7 1273.1,386.3 1265.4,386.8" fill="#E27429"/>
<polygon points="1255.1,374.5 1243.9,374.5 1233.8,374.0 1224.8,372.9 1216.9,371.3 1210.1,369.2 1203.4,366.6 1196.6,363.6 1189.8,360.1 1182.9,356.2 1176.2,352.3 1169.5,348.3 1162.8,344.2 1156.3,340.1 1150.5,335.6 1145.6,330.7 1141.5,325.4 1138.2,319.7 1135.5,314.2 1133.5,308.8 1132.1,303.7 1131.2,298.8 1131.4,294.4 1132.7,290.5 1135.0,287.1 1138.2,284.3 1144.2,282.0 1152.8,280.4 1164.1,279.4 1178.0,278.9 1191.7,278.8 1205.0,279.0 1218.1,279.5 1230.8,280.4 1244.2,280.8 1258.2,280.8 1272.7,280.4 1287.9,279.5 1301.9,278.9 1314.8,278.5 1326.6,278.3 1337.2,278.3 1346.2,278.9 1353.6,280.2 1359.3,282.0 1363.4,284.5 1366.5,287.2 1368.8,290.0 1370.1,293.1 1370.6,296.4 1370.6,300.1 1370.2,304.2 1369.4,308.6 1368.1,313.6 1366.2,318.5 1363.5,323.4 1360.2,328.3 1356.0,333.2 1351.3,337.9 1346.0,342.4 1340.0,346.8 1333.4,350.9 1327.0,354.6 1320.7,357.9 1314.7,360.9 1308.8,363.6 1302.7,366.0 1296.2,368.2 1289.5,370.1 1282.5,371.9 1274.4,373.2 1265.3,374.1" fill="#D7432B"/>
<polygon points="1247.7,358.8 1233.2,357.7 1226.9,356.1 1208.8,348.9 1202.7,346.1 1189.6,338.9 1185.5,336.6 1178.0,331.9 1177.5,328.9 1182.6,317.8 1188.5,315.6 1213.6,315.1 1222.9,315.1 1245.6,315.9 1259.2,315.9 1306.8,315.6 1317.1,317.6 1322.7,328.4 1321.4,332.1 1309.4,340.4 1304.6,343.2 1292.4,349.1 1287.5,351.3 1274.8,356.5 1269.2,357.7 1253.6,358.8" fill="#CF262A"/>
</g></g>
<ellipse cx="1250.0" cy="206.0" rx="205.6" ry="205.6" fill="none" stroke="#33503c" stroke-opacity="0.32" stroke-width="1.1"/>
</g>
<g filter="url(#soft)">
<g opacity="0.28">
<rect x="183.9" y="533.0" width="9.8" height="4.0" fill="#9090B8"/>
<rect x="184.7" y="533.0" width="38.6" height="4.0" fill="#2F4A9B"/>
<rect x="222.3" y="533.0" width="7.0" height="4.0" fill="#2A3F8F"/>
<rect x="228.3" y="533.0" width="74.2" height="4.0" fill="#3853A5"/>
<rect x="301.5" y="533.0" width="8.6" height="4.0" fill="#3550A0"/>
<rect x="309.1" y="533.0" width="75.3" height="4.0" fill="#4272B8"/>
<rect x="383.4" y="533.0" width="7.0" height="4.0" fill="#3A6EA5"/>
<rect x="389.4" y="533.0" width="64.6" height="4.0" fill="#54B8DF"/>
<rect x="453.0" y="533.0" width="10.0" height="4.0" fill="#4AA5CF"/>
<rect x="462.0" y="533.0" width="9.2" height="4.0" fill="#4FB59D"/>
<rect x="470.2" y="533.0" width="65.7" height="4.0" fill="#6CC4BA"/>
<rect x="534.9" y="533.0" width="10.0" height="4.0" fill="#63BD9F"/>
<rect x="543.9" y="533.0" width="8.4" height="4.0" fill="#47B56A"/>
<rect x="551.3" y="533.0" width="64.2" height="4.0" fill="#69BD89"/>
<rect x="614.5" y="533.0" width="10.3" height="4.0" fill="#5CB98A"/>
<rect x="623.8" y="533.0" width="8.1" height="4.0" fill="#45AD4A"/>
<rect x="630.9" y="533.0" width="65.7" height="4.0" fill="#65B85A"/>
<rect x="695.6" y="533.0" width="10.0" height="4.0" fill="#6BBB60"/>
<rect x="704.6" y="533.0" width="8.4" height="4.0" fill="#42AA3C"/>
<rect x="712.0" y="533.0" width="74.7" height="4.0" fill="#62B535"/>
<rect x="785.7" y="533.0" width="7.3" height="4.0" fill="#4FAE3B"/>
<rect x="792.0" y="533.0" width="75.2" height="4.0" fill="#60B433"/>
<rect x="866.2" y="533.0" width="7.8" height="4.0" fill="#4DAB3B"/>
<rect x="873.0" y="533.0" width="74.7" height="4.0" fill="#70B930"/>
<rect x="946.7" y="533.0" width="7.9" height="4.0" fill="#68A633"/>
<rect x="953.6" y="533.0" width="74.2" height="4.0" fill="#8FC736"/>
<rect x="1026.8" y="533.0" width="10.6" height="4.0" fill="#86A52F"/>
<rect x="1036.4" y="533.0" width="62.4" height="4.0" fill="#C5DB3B"/>
<rect x="1097.8" y="533.0" width="11.4" height="4.0" fill="#96C033"/>
<rect x="1108.2" y="533.0" width="9.7" height="4.0" fill="#D4A92C"/>
<rect x="1116.9" y="533.0" width="62.5" height="4.0" fill="#E7B52A"/>
<rect x="1178.4" y="533.0" width="10.5" height="4.0" fill="#B89A27"/>
<rect x="1187.9" y="533.0" width="10.6" height="4.0" fill="#DC6A24"/>
<rect x="1197.5" y="533.0" width="62.4" height="4.0" fill="#E67228"/>
<rect x="1258.9" y="533.0" width="10.5" height="4.0" fill="#C4682B"/>
<rect x="1268.4" y="533.0" width="9.2" height="4.0" fill="#CF3A2B"/>
<rect x="1276.6" y="533.0" width="63.8" height="4.0" fill="#DF3C2B"/>
<rect x="1339.4" y="533.0" width="11.1" height="4.0" fill="#C83A30"/>
<rect x="1349.5" y="533.0" width="10.9" height="4.0" fill="#CF242C"/>
<rect x="1359.4" y="533.0" width="27.4" height="4.0" fill="#DD272D"/>
<rect x="1385.8" y="533.0" width="7.9" height="4.0" fill="#96475F"/>
</g>
<rect x="175.9" y="536.4" width="9.8" height="34.2" fill="#9090B8"/>
<rect x="184.7" y="536.4" width="38.6" height="34.2" fill="#2F4A9B"/>
<rect x="222.3" y="536.4" width="7.0" height="34.2" fill="#2A3F8F"/>
<rect x="228.3" y="536.4" width="74.2" height="34.2" fill="#3853A5"/>
<rect x="301.5" y="536.4" width="8.6" height="34.2" fill="#3550A0"/>
<rect x="309.1" y="536.4" width="75.3" height="34.2" fill="#4272B8"/>
<rect x="383.4" y="536.4" width="7.0" height="34.2" fill="#3A6EA5"/>
<rect x="389.4" y="536.4" width="64.6" height="34.2" fill="#54B8DF"/>
<rect x="453.0" y="536.4" width="10.0" height="34.2" fill="#4AA5CF"/>
<rect x="462.0" y="536.4" width="9.2" height="34.2" fill="#4FB59D"/>
<rect x="470.2" y="536.4" width="65.7" height="34.2" fill="#6CC4BA"/>
<rect x="534.9" y="536.4" width="10.0" height="34.2" fill="#63BD9F"/>
<rect x="543.9" y="536.4" width="8.4" height="34.2" fill="#47B56A"/>
<rect x="551.3" y="536.4" width="64.2" height="34.2" fill="#69BD89"/>
<rect x="614.5" y="536.4" width="10.3" height="34.2" fill="#5CB98A"/>
<rect x="623.8" y="536.4" width="8.1" height="34.2" fill="#45AD4A"/>
<rect x="630.9" y="536.4" width="65.7" height="34.2" fill="#65B85A"/>
<rect x="695.6" y="536.4" width="10.0" height="34.2" fill="#6BBB60"/>
<rect x="704.6" y="536.4" width="8.4" height="34.2" fill="#42AA3C"/>
<rect x="712.0" y="536.4" width="74.7" height="34.2" fill="#62B535"/>
<rect x="785.7" y="536.4" width="7.3" height="34.2" fill="#4FAE3B"/>
<rect x="792.0" y="536.4" width="75.2" height="34.2" fill="#60B433"/>
<rect x="866.2" y="536.4" width="7.8" height="34.2" fill="#4DAB3B"/>
<rect x="873.0" y="536.4" width="74.7" height="34.2" fill="#70B930"/>
<rect x="946.7" y="536.4" width="7.9" height="34.2" fill="#68A633"/>
<rect x="953.6" y="536.4" width="74.2" height="34.2" fill="#8FC736"/>
<rect x="1026.8" y="536.4" width="10.6" height="34.2" fill="#86A52F"/>
<rect x="1036.4" y="536.4" width="62.4" height="34.2" fill="#C5DB3B"/>
<rect x="1097.8" y="536.4" width="11.4" height="34.2" fill="#96C033"/>
<rect x="1108.2" y="536.4" width="9.7" height="34.2" fill="#D4A92C"/>
<rect x="1116.9" y="536.4" width="62.5" height="34.2" fill="#E7B52A"/>
<rect x="1178.4" y="536.4" width="10.5" height="34.2" fill="#B89A27"/>
<rect x="1187.9" y="536.4" width="10.6" height="34.2" fill="#DC6A24"/>
<rect x="1197.5" y="536.4" width="62.4" height="34.2" fill="#E67228"/>
<rect x="1258.9" y="536.4" width="10.5" height="34.2" fill="#C4682B"/>
<rect x="1268.4" y="536.4" width="9.2" height="34.2" fill="#CF3A2B"/>
<rect x="1276.6" y="536.4" width="63.8" height="34.2" fill="#DF3C2B"/>
<rect x="1339.4" y="536.4" width="11.1" height="34.2" fill="#C83A30"/>
<rect x="1349.5" y="536.4" width="10.9" height="34.2" fill="#CF242C"/>
<rect x="1359.4" y="536.4" width="27.4" height="34.2" fill="#DD272D"/>
<rect x="1385.8" y="536.4" width="7.9" height="34.2" fill="#96475F"/>
<rect x="1392.7" y="533" width="3.5" height="37.6" fill="#E9B8C0" opacity="0.6"/>
<rect x="176" y="570.4" width="1217" height="1.2" fill="#c9cfc9" opacity="0.8"/>
</g>
<g style="font-family:'Liberation Serif',serif;font-size:52px;fill:#231f20">
<text x="313.4" y="479.7" text-anchor="middle">(a) 10%</text>
<text x="785.8" y="479.7" text-anchor="middle">(b) 15%</text>
<text x="1256.2" y="479.7" text-anchor="middle">(c) 20%</text>
<text x="229.5" y="632.2" text-anchor="middle">2</text>
<text x="309.3" y="632.2" text-anchor="middle">4</text>
<text x="389.1" y="632.2" text-anchor="middle">6</text>
<text x="468.9" y="632.2" text-anchor="middle">8</text>
<text x="548.7" y="632.2" text-anchor="middle">10</text>
<text x="628.5" y="632.2" text-anchor="middle">12</text>
<text x="708.3" y="632.2" text-anchor="middle">14</text>
<text x="788.1" y="632.2" text-anchor="middle">16</text>
<text x="867.9" y="632.2" text-anchor="middle">18</text>
<text x="947.7" y="632.2" text-anchor="middle">20</text>
<text x="1027.5" y="632.2" text-anchor="middle">22</text>
<text x="1107.3" y="632.2" text-anchor="middle">24</text>
<text x="1187.1" y="632.2" text-anchor="middle">26</text>
<text x="1266.9" y="632.2" text-anchor="middle">28</text>
<text x="1346.7" y="632.2" text-anchor="middle">30</text>
<text x="940.0" y="701.2" text-anchor="start">/%</text>
</g>
<text x="575.8" y="701.9" text-anchor="start" fill="#231f20" style="font-family:'Liberation Serif','Noto Serif CJK SC',serif;font-size:51.8px">支撑剂体积分数</text>

</svg>
</body>
</html>
